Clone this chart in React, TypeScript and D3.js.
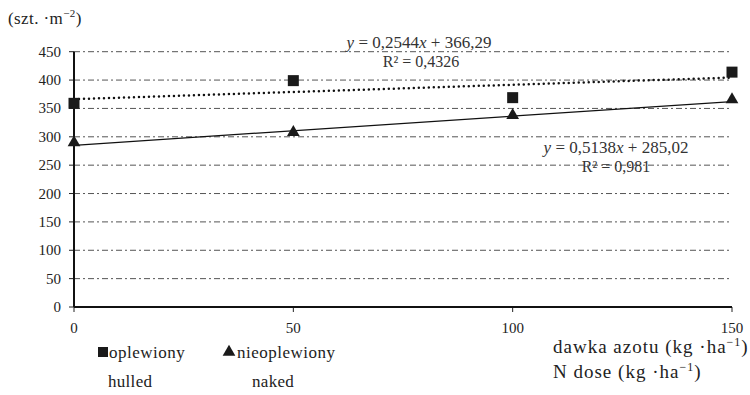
import React from "react";
import * as d3 from "d3";

const doses = [0, 50, 100, 150];
const hulled = [359, 399, 369, 414];
const naked = [288, 306, 336, 364];
const yTicks = [0, 50, 100, 150, 200, 250, 300, 350, 400, 450];
const xTicks = [0, 50, 100, 150];
const trendHulled = { slope: 0.2544, intercept: 366.29, eq: "0,2544", b: "366,29", r2: "0,4326" };
const trendNaked = { slope: 0.5138, intercept: 285.02, eq: "0,5138", b: "285,02", r2: "0,981" };

const FONT = 'Times New Roman, Times, Tinos, Liberation Serif, DejaVu Serif, Noto Serif, serif';

export default function App() {
  const W = 750, H = 395;
  const x = d3.scaleLinear().domain([0, 150]).range([74, 732]);
  const y = d3.scaleLinear().domain([0, 450]).range([307, 51.7]);
  const trendPath = (t: { slope: number; intercept: number }) =>
    d3.line<number[]>().x((d) => x(d[0])).y((d) => y(d[1]))([
      [0, t.intercept],
      [150, t.intercept + t.slope * 150],
    ]) as string;
  const tri = d3.symbol().type(d3.symbolTriangle).size(70)() as string;
  const ts = { fontFamily: FONT };
  return (
    <svg width={W} height={H} style={{ position: "absolute", left: 0, top: 0, fontFamily: FONT }}>
      <rect width={W} height={H} fill="#fff" />
      {yTicks.filter((v) => v > 0).map((v) => (
        <line key={v} x1={x(0)} x2={x(150)} y1={y(v)} y2={y(v)} stroke="#555" strokeWidth={1} strokeDasharray="6 3 2 3" />
      ))}
      {yTicks.map((v) => (
        <g key={"yt" + v}>
          <line x1={x(0) - 5} x2={x(0)} y1={y(v)} y2={y(v)} stroke="#222" strokeWidth={1} />
          <text style={ts} x={61} y={y(v) + 5} textAnchor="end" fontSize={15} fill="#222">{v}</text>
        </g>
      ))}
      {xTicks.map((v) => (
        <g key={"xt" + v}>
          <line x1={x(v)} x2={x(v)} y1={y(0)} y2={y(0) + 5} stroke="#222" strokeWidth={1} />
          <text style={ts} x={x(v)} y={333} textAnchor="middle" fontSize={15} fill="#222">{v}</text>
        </g>
      ))}
      <line x1={x(0)} x2={x(0)} y1={y(450)} y2={y(0)} stroke="#111" strokeWidth={2} />
      <line x1={x(0)} x2={x(150)} y1={y(0)} y2={y(0)} stroke="#111" strokeWidth={2} />
      <path d={trendPath(trendHulled)} fill="none" stroke="#111" strokeWidth={2.5} strokeDasharray="0 5" strokeLinecap="round" />
      <path d={trendPath(trendNaked)} fill="none" stroke="#111" strokeWidth={1.3} />
      {doses.map((d, i) => (
        <rect key={"h" + i} x={x(d) - 5.5} y={y(hulled[i]) - 5.5} width={11} height={11} fill="#1a1a1a" />
      ))}
      {doses.map((d, i) => (
        <path key={"n" + i} d={tri} transform={`translate(${x(d)},${y(naked[i]) - 1})`} fill="#1a1a1a" />
      ))}
      <text style={ts} x={8} y={24} fontSize={17} letterSpacing={0.4} fill="#222">(szt. ·m<tspan dy={-7} fontSize={11}>−2</tspan><tspan dy={7}>)</tspan></text>
      <text style={ts} x={419} y={48} textAnchor="middle" fontSize={17} fill="#333">
        <tspan fontStyle="italic">y</tspan> = {trendHulled.eq}<tspan fontStyle="italic">x</tspan> + {trendHulled.b}
      </text>
      <text style={ts} x={421} y={67} textAnchor="middle" fontSize={16} fill="#333">R² = {trendHulled.r2}</text>
      <text style={ts} x={616} y={153} textAnchor="middle" fontSize={17} fill="#333">
        <tspan fontStyle="italic">y</tspan> = {trendNaked.eq}<tspan fontStyle="italic">x</tspan> + {trendNaked.b}
      </text>
      <text style={ts} x={616} y={172} textAnchor="middle" fontSize={16} fill="#333">R² = {trendNaked.r2}</text>
      <rect x={98} y={347} width={10} height={10} fill="#1a1a1a" />
      <text style={ts} x={109} y={358} fontSize={17} letterSpacing={0.5} fill="#222">oplewiony</text>
      <text style={ts} x={108} y={387} fontSize={17} letterSpacing={0.3} fill="#222">hulled</text>
      <path d={tri} transform={`translate(229,352)`} fill="#1a1a1a" />
      <text style={ts} x={237} y={358} fontSize={17} letterSpacing={0.5} fill="#222">nieoplewiony</text>
      <text style={ts} x={252} y={387} fontSize={17} letterSpacing={0.3} fill="#222">naked</text>
      <text style={ts} x={553} y={353} fontSize={19} letterSpacing={1} fill="#222">dawka azotu (kg ·ha<tspan dy={-7} fontSize={12}>−1</tspan><tspan dy={7}>)</tspan></text>
      <text style={ts} x={553} y={378} fontSize={19} letterSpacing={1} fill="#222">N dose (kg ·ha<tspan dy={-7} fontSize={12}>−1</tspan><tspan dy={7}>)</tspan></text>
    </svg>
  );
}
